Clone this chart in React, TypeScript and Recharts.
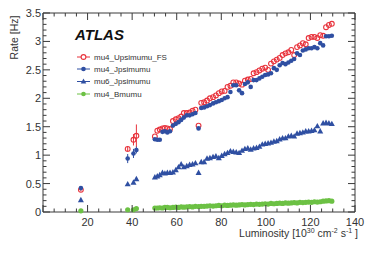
import React from 'react';
import { ScatterChart, Scatter, XAxis, YAxis, ErrorBar } from 'recharts';

// luminosity bins [10^30 cm^-2 s^-1]
const luminosity = [
  17, 38, 40.6, 41.9,
  50.2, 51.3, 52.4, 53.6, 54.7, 55.8, 57.0, 58.3,
  59.6, 60.8, 62.0, 63.2, 64.5, 65.8, 67.1, 68.4,
  69.8, 71.0, 72.3, 73.6, 74.9, 76.3, 77.6, 78.9,
  80.2, 81.5, 82.8, 84.1, 85.4, 86.7, 88.0, 89.3,
  90.6, 91.9, 93.2, 94.5, 95.8, 97.1, 98.4, 99.7,
  101.0, 102.3, 103.6, 104.9, 106.2, 107.5, 108.8, 110.1,
  111.4, 112.7, 114.0, 115.3, 116.6, 117.9, 119.2, 120.5,
  121.8, 123.1, 124.4, 125.7, 127.0, 128.3, 129.6,
];

const upsimumuFS = [
  0.39, 1.11, 1.27, 1.34,
  1.33, 1.43, 1.45, 1.47, 1.48, 1.47, 1.46, 1.60,
  1.63, 1.65, 1.68, 1.74, 1.74, 1.75, 1.78, 1.80,
  1.52, 1.92, 1.93, 1.96, 2.00, 2.02, 2.05, 2.09,
  2.12, 2.13, 2.20, 2.22, 2.28, 2.28, 2.26, 2.24,
  2.31, 2.33, 2.34, 2.44, 2.46, 2.49, 2.52, 2.54,
  2.50, 2.61, 2.65, 2.68, 2.71, 2.76, 2.79, 2.81,
  2.85, 2.76, 2.90, 2.93, 2.97, 2.95, 3.06, 3.08,
  3.08, 3.06, 3.11, 3.10, 3.25, 3.29, 3.31,
];
const upsimumuFSErr = [0.03, 0.05, 0.1, 0.2];

const mu4Jpsimumu = [
  0.42, 0.94, 1.03, 1.09,
  1.28, 1.27, 1.27, 1.41, 1.42, 1.40, 1.42, 1.52,
  1.55, 1.58, 1.62, 1.66, 1.70, 1.70, 1.72, 1.74,
  1.47, 1.83, 1.84, 1.86, 1.88, 1.91, 1.93, 1.95,
  1.97, 2.00, 2.02, 2.11, 2.23, 2.23, 2.14, 2.09,
  2.25, 2.28, 2.20, 2.32, 2.32, 2.35, 2.38, 2.41,
  2.42, 2.44, 2.53, 2.50, 2.58, 2.62, 2.60, 2.63,
  2.66, 2.69, 2.79, 2.76, 2.84, 2.86, 2.88, 2.88,
  2.90, 2.88, 2.97, 2.93, 3.09, 3.09, 3.10,
];
const mu4JpsimumuErr = [0.02, 0.08, 0.08, 0.06];

const mu6Jpsimumu = [
  0.21, 0.49, 0.52, 0.58,
  0.61, 0.63, 0.65, 0.69, 0.68, 0.69, 0.69, 0.70,
  0.74, 0.79, 0.84, 0.79, 0.81, 0.83, 0.84, 0.86,
  0.69, 0.88, 0.88, 0.94, 0.95, 0.97, 0.98, 0.95,
  0.99, 1.02, 1.04, 1.07, 1.06, 1.05, 1.04, 1.08,
  1.11, 1.12, 1.10, 1.12, 1.13, 1.15, 1.19, 1.20,
  1.21, 1.22, 1.24, 1.25, 1.28, 1.30, 1.30, 1.33,
  1.34, 1.33, 1.38, 1.39, 1.40, 1.42, 1.42, 1.43,
  1.44, 1.51, 1.42, 1.56, 1.57, 1.56, 1.55,
];

const mu4Bmumu = [
  0.02, 0.04, 0.04, 0.06,
  0.070, 0.070, 0.075, 0.070, 0.080, 0.080, 0.075, 0.080,
  0.085, 0.080, 0.090, 0.085, 0.090, 0.095, 0.090, 0.100,
  0.095, 0.100, 0.100, 0.105, 0.110, 0.105, 0.110, 0.115,
  0.110, 0.120, 0.115, 0.120, 0.125, 0.120, 0.125, 0.130,
  0.125, 0.130, 0.135, 0.130, 0.140, 0.135, 0.140, 0.145,
  0.140, 0.150, 0.145, 0.150, 0.155, 0.150, 0.160, 0.155,
  0.160, 0.165, 0.160, 0.170, 0.165, 0.170, 0.175, 0.170,
  0.180, 0.175, 0.180, 0.190, 0.195, 0.200, 0.190,
];

const xLabels = [20, 40, 60, 80, 100, 120, 140];
const yLabels = ['0', '0.5', '1', '1.5', '2', '2.5', '3', '3.5'];
const seriesNames = ['mu4_Upsimumu_FS', 'mu4_Jpsimumu', 'mu6_Jpsimumu', 'mu4_Bmumu'];

const RED = '#e8333c';
const BLUE = '#2f4fa2';
const GREEN = '#6cc144';
const AXIS = '#3a3a3a';
const FONT = '"Liberation Sans", Arial, sans-serif';

const build = (vals: number[], errs: number[] = []) =>
  luminosity.map((x, i) => ({ x, y: vals[i], err: errs[i] ?? 0 }));

const xTicks: number[] = [];
for (let v = 0; v <= 140; v += 5) xTicks.push(v);
const yTicks: number[] = [];
for (let i = 0; i <= 35; i++) yTicks.push(i / 10);

const isMajorY = (v: number) => Math.abs(v * 2 - Math.round(v * 2)) < 1e-6;
const isMajorX = (v: number) => v % 20 === 0;

const LeftTick = (p: any) => {
  const v = p.payload.value;
  const major = isMajorY(v);
  return (
    <g>
      <line x1={p.x} x2={p.x + (major ? 7 : 3.5)} y1={p.y} y2={p.y} stroke={AXIS} />
      {major && (
        <text x={p.x - 2} y={p.y + 4} textAnchor="end" fontSize={11} fill="#333" fontFamily={FONT}>
          {yLabels[Math.round(v * 2)]}
        </text>
      )}
    </g>
  );
};
const RightTick = (p: any) => {
  const major = isMajorY(p.payload.value);
  return <line x1={p.x} x2={p.x - (major ? 7 : 3.5)} y1={p.y} y2={p.y} stroke={AXIS} />;
};
const BottomTick = (p: any) => {
  const v = p.payload.value;
  const major = isMajorX(v);
  return (
    <g>
      <line x1={p.x} x2={p.x} y1={p.y} y2={p.y - (major ? 7 : 3.5)} stroke={AXIS} />
      {major && xLabels.includes(v) && (
        <text x={p.x} y={p.y + 14} textAnchor="middle" fontSize={11} fill="#333" fontFamily={FONT}>
          {v}
        </text>
      )}
    </g>
  );
};
const TopTick = (p: any) => {
  const major = isMajorX(p.payload.value);
  return <line x1={p.x} x2={p.x} y1={p.y} y2={p.y + (major ? 7 : 3.5)} stroke={AXIS} />;
};

const OpenCircle = (p: any) => (
  <circle cx={p.cx} cy={p.cy} r={2.4} fill="none" stroke={RED} strokeWidth={1.1} />
);
const Dot = (color: string, r: number) => (p: any) => (
  <circle cx={p.cx} cy={p.cy} r={r} fill={color} />
);
const Triangle = (p: any) => (
  <path d={`M${p.cx},${p.cy - 3.2} L${p.cx + 3},${p.cy + 2.2} L${p.cx - 3},${p.cy + 2.2} Z`} fill={BLUE} />
);
const Nothing = () => <g />;

const legendY = [57, 69, 81.5, 94];

export default function App() {
  return (
    <div style={{ position: 'absolute', left: 0, top: 0, width: 374, height: 254, background: '#fff' }}>
      <ScatterChart width={374} height={254} margin={{ top: 0, right: 0, bottom: 0, left: 0 }}>
        <XAxis
          xAxisId={0}
          type="number"
          dataKey="x"
          domain={[0, 140]}
          ticks={xTicks}
          interval={0}
          tickSize={0}
          tickMargin={0}
          height={42}
          stroke={AXIS}
          tick={BottomTick}
        />
        <XAxis
          xAxisId="top"
          orientation="top"
          type="number"
          dataKey="x"
          domain={[0, 140]}
          ticks={xTicks}
          interval={0}
          tickSize={0}
          tickMargin={0}
          height={13}
          stroke={AXIS}
          tick={TopTick}
        />
        <YAxis
          yAxisId={0}
          type="number"
          dataKey="y"
          domain={[0, 3.5]}
          ticks={yTicks}
          interval={0}
          tickSize={0}
          tickMargin={0}
          width={43}
          stroke={AXIS}
          tick={LeftTick}
        />
        <YAxis
          yAxisId="right"
          orientation="right"
          type="number"
          dataKey="y"
          domain={[0, 3.5]}
          ticks={yTicks}
          interval={0}
          tickSize={0}
          tickMargin={0}
          width={19}
          stroke={AXIS}
          tick={RightTick}
        />
        {/* invisible series so the mirrored frame axes get drawn */}
        <Scatter
          xAxisId="top"
          yAxisId="right"
          data={build(mu4Bmumu)}
          shape={Nothing}
          isAnimationActive={false}
        />
        <Scatter data={build(upsimumuFS, upsimumuFSErr)} shape={OpenCircle} isAnimationActive={false}>
          <ErrorBar dataKey="err" direction="y" width={0} stroke={RED} strokeWidth={1} />
        </Scatter>
        <Scatter data={build(mu4Jpsimumu, mu4JpsimumuErr)} shape={Dot(BLUE, 2.3)} isAnimationActive={false}>
          <ErrorBar dataKey="err" direction="y" width={0} stroke={BLUE} strokeWidth={1} />
        </Scatter>
        <Scatter data={build(mu6Jpsimumu)} shape={Triangle} isAnimationActive={false} />
        <Scatter data={build(mu4Bmumu)} shape={Dot(GREEN, 2.6)} isAnimationActive={false} />
      </ScatterChart>
      <svg width={374} height={254} style={{ position: 'absolute', left: 0, top: 0, pointerEvents: 'none' }}>
        <text x={75} y={40} fontSize={15} fontWeight="bold" fontStyle="italic" fill="#111" fontFamily={FONT}>
          ATLAS
        </text>
        {seriesNames.map((name, i) => {
          const y = legendY[i];
          const color = [RED, BLUE, BLUE, GREEN][i];
          return (
            <g key={name}>
              <line x1={77} x2={90} y1={y} y2={y} stroke={color} strokeWidth={1} />
              {i === 0 && <circle cx={83.5} cy={y} r={2.4} fill="#fff" stroke={RED} strokeWidth={1.1} />}
              {(i === 1 || i === 3) && <circle cx={83.5} cy={y} r={2.3} fill={color} />}
              {i === 2 && (
                <path d={`M83.5,${y - 3} L86.3,${y + 2} L80.7,${y + 2} Z`} fill={BLUE} />
              )}
              <text x={94} y={y + 2.8} fontSize={8} fill="#333" fontFamily={FONT}>
                {name}
              </text>
            </g>
          );
        })}
        <text
          x={18}
          y={37.5}
          transform="rotate(-90 18 37.5)"
          textAnchor="middle"
          fontSize={10.5}
          fill="#333"
          fontFamily={FONT}
        >
          Rate [Hz]
        </text>
        <text x={358} y={237} textAnchor="end" fontSize={10.5} fill="#333" fontFamily={FONT}>
          Luminosity [10
          <tspan fontSize={7} dy={-4}>30</tspan>
          <tspan dy={4}> cm</tspan>
          <tspan fontSize={7} dy={-4}>-2</tspan>
          <tspan dy={4}> s</tspan>
          <tspan fontSize={7} dy={-4}>-1</tspan>
          <tspan dy={4}> ]</tspan>
        </text>
      </svg>
    </div>
  );
}
